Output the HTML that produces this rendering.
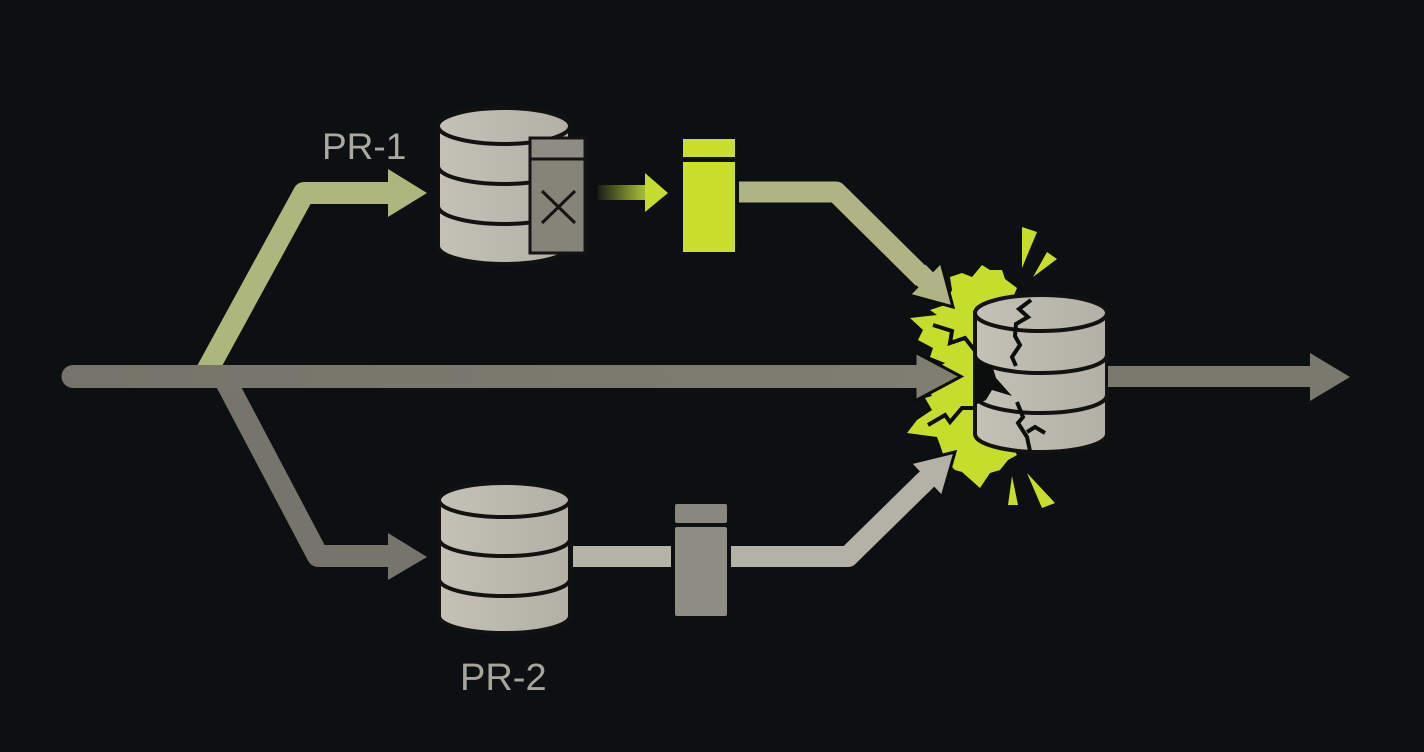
<!DOCTYPE html>
<html><head><meta charset="utf-8"><style>
html,body{margin:0;padding:0;background:#0c1013;}
svg{display:block;}
</style></head><body>
<svg width="1424" height="752" viewBox="0 0 1424 752" xmlns="http://www.w3.org/2000/svg">
<defs>
<linearGradient id="db" x1="0" y1="0" x2="1" y2="0">
<stop offset="0" stop-color="#c4c1b7"/><stop offset="1" stop-color="#b3b0a6"/>
</linearGradient>
<linearGradient id="sm" gradientUnits="userSpaceOnUse" x1="598" y1="0" x2="668" y2="0">
<stop offset="0" stop-color="#1a1e16"/><stop offset="0.6" stop-color="#9bb034"/><stop offset="1" stop-color="#c4dc30"/>
</linearGradient>
<linearGradient id="main" gradientUnits="userSpaceOnUse" x1="73" y1="0" x2="960" y2="0">
<stop offset="0" stop-color="#76746a"/><stop offset="1" stop-color="#807e72"/>
</linearGradient>
</defs>
<rect width="1424" height="752" fill="#0c1013"/>

<!-- upper-left branch -->
<path d="M203 378 L304 193 L392 193" fill="none" stroke="#adb67c" stroke-width="22" stroke-linejoin="round"/>
<polygon points="388,169 427,193 388,217" fill="#adb67c"/>

<!-- lower-left branch -->
<path d="M223 376 L318 556 L392 556" fill="none" stroke="#77756b" stroke-width="22" stroke-linejoin="round"/>
<polygon points="388,533 427,557 388,580" fill="#77756b"/>

<!-- main line -->
<line x1="73" y1="376.5" x2="918" y2="376.5" stroke="url(#main)" stroke-width="23" stroke-linecap="round"/>

<!-- small gradient arrow -->
<rect x="598" y="185" width="49" height="15" fill="url(#sm)"/>
<polygon points="645,173 668,193 645,212" fill="#c4dc30"/>

<!-- lime block -->
<rect x="683" y="139" width="52" height="18" fill="#c9df2b"/>
<rect x="683" y="162" width="52" height="90" fill="#c9df2b"/>

<!-- upper-right path -->
<path d="M739 192 L836 192 L928 283" fill="none" stroke="#b0b383" stroke-width="21" stroke-linejoin="round"/>

<!-- lower path -->
<rect x="573" y="546" width="98" height="21" fill="#b6b4a6"/>
<rect x="675" y="504" width="52" height="19" rx="2" fill="#8a887e"/>
<rect x="675" y="527" width="52" height="89" rx="2" fill="#8f8d84"/>
<path d="M731 556.5 L848 556.5 L928 478" fill="none" stroke="#b4b2a6" stroke-width="21" stroke-linejoin="round"/>

<!-- DB1 -->
<g stroke="#121212" stroke-width="4">
<path d="M438 126 V246 A66 18 0 0 0 570 246 V126 Z" fill="url(#db)"/>
<ellipse cx="504" cy="126" rx="66" ry="18" fill="url(#db)"/>
<path d="M438 166 A66 18 0 0 0 570 166 M438 206 A66 18 0 0 0 570 206" fill="none"/>
</g>
<!-- panel on DB1 -->
<g stroke="#141414" stroke-width="3">
<rect x="530" y="138" width="55" height="115" fill="#868479"/>
<rect x="530" y="138" width="55" height="21" fill="#8e8c83"/>
<line x1="542" y1="191" x2="575" y2="223"/>
<line x1="575" y1="191" x2="542" y2="223"/>
</g>

<!-- DB2 -->
<g stroke="#121212" stroke-width="4">
<path d="M439 500 V616 A65.5 17 0 0 0 570 616 V500 Z" fill="url(#db)"/>
<ellipse cx="504.5" cy="500" rx="65.5" ry="17" fill="url(#db)"/>
<path d="M439 539 A65.5 17 0 0 0 570 539 M439 579 A65.5 17 0 0 0 570 579" fill="none"/>
</g>

<!-- burst -->
<polygon fill="#c6dd2c" points="1012,300 1017,288 1005,279 1002,270 990,270 982,265 972,277 962,273 950,277 952,290 945,305 930,310 937,315 910,318 923,330 918,340 933,348 930,357 945,363 930,372 925,385 932,396 925,398 932,410 917,420 907,433 937,437 940,445 945,460 955,470 962,472 980,488 990,473 1000,470 1008,460 1017,455 1013,448 1000,440 1000,300"/>
<!-- spikes -->
<polygon fill="#c6dd2c" points="1022,227 1037,232 1022,268"/>
<polygon fill="#c6dd2c" points="1047,252 1057,259 1033,277"/>
<polygon fill="#c6dd2c" points="1012,476 1008,505 1018,505"/>
<polygon fill="#c6dd2c" points="1027,473 1042,508 1055,503"/>
<!-- burst cracks -->
<g fill="none" stroke="#0c0e0e" stroke-width="4" stroke-linejoin="miter">
<polyline points="933,325 952,331 950,343 965,338 976,352"/>
<polyline points="928,425 945,415 950,422 962,408 976,408"/>
</g>

<!-- arrowheads into burst -->
<polygon points="941,262 953,307 909,295" fill="#b0b383" stroke="#0c0e0e" stroke-width="3" stroke-linejoin="miter"/>
<line x1="918" y1="272" x2="930" y2="284" stroke="#b0b383" stroke-width="21"/>
<polygon points="915,352 961,376.5 915,401" fill="#807e72" stroke="#0c0e0e" stroke-width="3"/>
<rect x="905" y="365" width="14" height="23" fill="#807e72"/>
<polygon points="910,463 955,452 942,497" fill="#b4b2a6" stroke="#0c0e0e" stroke-width="3"/>
<line x1="920" y1="486" x2="930" y2="476" stroke="#b4b2a6" stroke-width="21"/>

<!-- broken DB -->
<g stroke="#121212" stroke-width="4">
<path d="M975 313 V434 A66 18 0 0 0 1107 434 V313 Z" fill="url(#db)"/>
<ellipse cx="1041" cy="313" rx="66" ry="18" fill="url(#db)"/>
<path d="M975 355 A66 18 0 0 0 1107 355 M975 395 A66 18 0 0 0 1107 395" fill="none"/>
</g>
<!-- hole & cracks -->
<polygon points="975,362 992,365 996,378 1012,396 992,390 986,400 975,405" fill="#0c0e0e"/>
<g fill="none" stroke="#0c0e0e" stroke-width="4" stroke-linejoin="miter">
<polyline points="1031,300 1019,309 1028,317 1016,324 1015,336 1020,345 1012,357 1016,366"/>
<polyline points="1017,402 1023,417 1018,423 1027,437 1030,451"/>
<polyline points="1027,432 1035,427 1045,433"/>
</g>

<!-- output arrow -->
<rect x="1108" y="366" width="204" height="21" fill="#7b796e"/>
<polygon points="1310,353 1350,377 1310,401" fill="#7b796e"/>

<!-- labels -->
<text x="322" y="159" font-family="Liberation Sans, sans-serif" font-size="37" fill="#aaa89f">PR-1</text>
<text x="460" y="690" font-family="Liberation Sans, sans-serif" font-size="38" fill="#a6a49b">PR-2</text>
</svg>
</body></html>
